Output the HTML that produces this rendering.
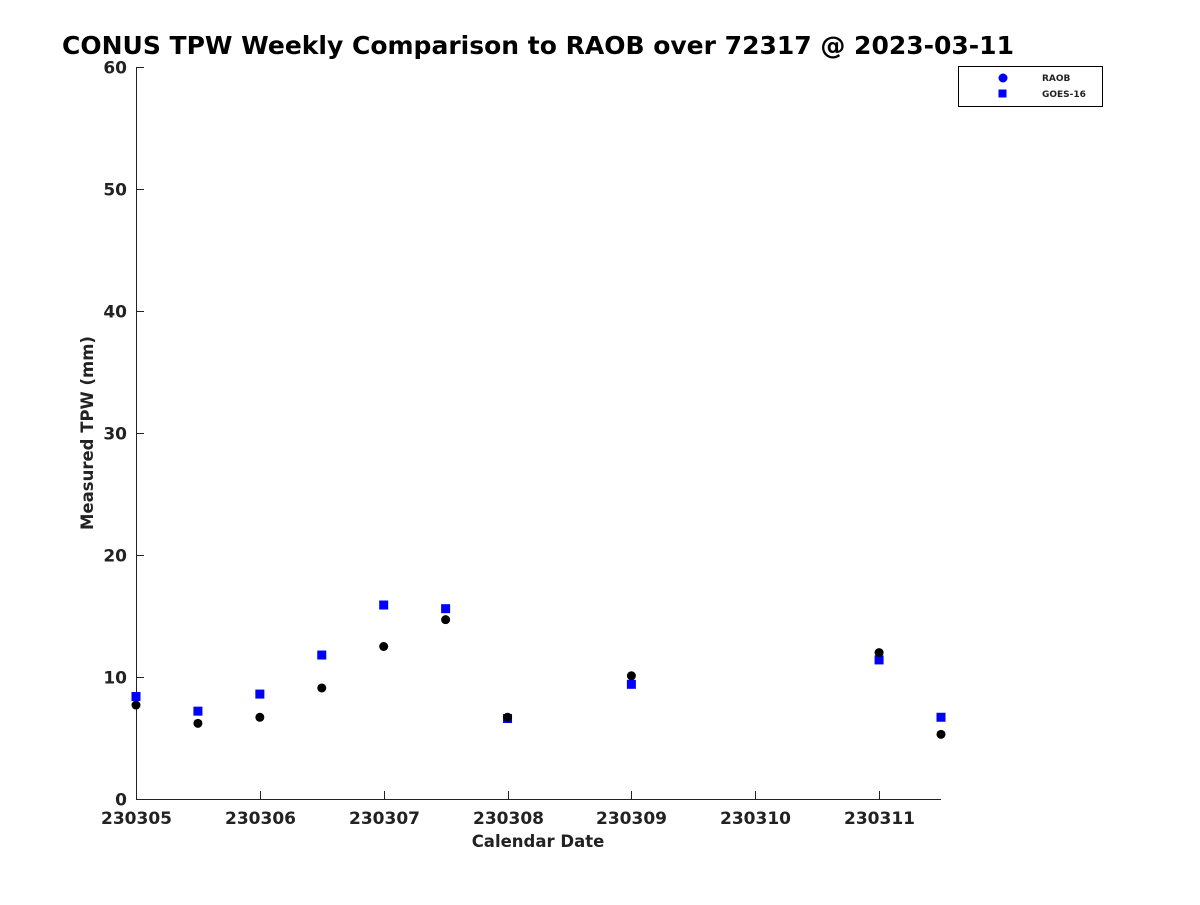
<!DOCTYPE html>
<html><head><meta charset="utf-8"><style>
body{margin:0;background:#fff;}
svg text{font-family:"DejaVu Sans","Liberation Sans",sans-serif;font-weight:bold;}
</style></head><body>
<svg id="chart" width="1200" height="900">
<rect width="1200" height="900" fill="#fff"/>
<text x="62" y="54" font-size="25" fill="#000">CONUS TPW Weekly Comparison to RAOB over 72317 @ 2023-03-11</text>
<g id="axes"></g>
<g id="marks"></g>
<g>
<rect x="958.5" y="66.5" width="144" height="40" fill="#fff" stroke="#000" stroke-width="1"/>
<circle cx="1003" cy="78" r="4.5" fill="#0000ff"/>
<text x="1042" y="81" font-size="9" fill="#222">RAOB</text>
<rect x="998.5" y="89.5" width="8" height="8" fill="#0000ff"/>
<text x="1042" y="97" font-size="9" fill="#222">GOES-16</text>
</g>
<text x="538" y="847" font-size="16.5" fill="#222" text-anchor="middle">Calendar Date</text>
<text transform="translate(93,433) rotate(-90)" font-size="16.5" fill="#222" text-anchor="middle">Measured TPW (mm)</text>
</svg>
<script>
const xTicks=[5,6,7,8,9,10,11];
const xTickLabels=["230305","230306","230307","230308","230309","230310","230311"];
const yTicks=[0,10,20,30,40,50,60];
const times=[5,5.5,6,6.5,7,7.5,8,9,11,11.5];
const raob=[7.7,6.2,6.7,9.1,12.5,14.7,6.7,10.1,12.0,5.3];
const goes=[8.4,7.2,8.6,11.8,15.9,15.6,6.6,9.4,11.4,6.7];

const X0=136,X1=941,Y0=799,Y1=67;
const xs=v=>X0+(v-5)/(11.5-5)*(X1-X0);
const ys=v=>Y0-(v/60)*(Y0-Y1);
const NS="http://www.w3.org/2000/svg";
function mk(t,a,p){const e=document.createElementNS(NS,t);for(const k in a)e.setAttribute(k,a[k]);p.appendChild(e);return e;}
const ax=document.getElementById('axes'),mg=document.getElementById('marks');
let l=mk('line',{x1:X0+.5,y1:Y1,x2:X0+.5,y2:Y0+.5,stroke:'#222'},ax);


l=mk('line',{x1:X0,y1:Y0+.5,x2:X1,y2:Y0+.5,stroke:'#222'},ax);


yTicks.forEach(v=>{const y=Math.round(ys(v))+.5;
 mk('line',{x1:X0,y1:y,x2:X0+8,y2:y,stroke:'#222'},ax);
 const t=mk('text',{x:X0-9,y:y+6,'font-size':17,fill:'#222','text-anchor':'end'},ax);t.textContent=v;
 
 });
xTicks.forEach((v,i)=>{const x=Math.round(xs(v))+.5;
 mk('line',{x1:x,y1:Y0,x2:x,y2:Y0-8,stroke:'#222'},ax);
 const t=mk('text',{x:x,y:Y0+25,'font-size':17,fill:'#222','text-anchor':'middle'},ax);t.textContent=xTickLabels[i];
 
 });
times.forEach((d,i)=>{const r=mk('rect',{x:xs(d)-4.5,y:ys(goes[i])-4.5,width:9,height:9,fill:'#0000ff'},mg);
 
 });
times.forEach((d,i)=>{const c=mk('circle',{cx:xs(d),cy:ys(raob[i]),r:4.5,fill:'#000'},mg);
 
 });
</script>
</body></html>
